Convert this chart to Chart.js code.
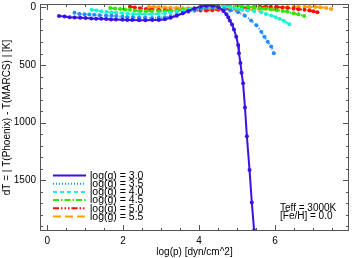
<!DOCTYPE html>
<html>
<head>
<meta charset="utf-8">
<script src="https://cdn.jsdelivr.net/npm/chart.js@4.4.1/dist/chart.umd.min.js"></script>
<style>
html, body { margin: 0; padding: 0; background: #fff; }
</style>
</head>
<body>
<canvas id="c" width="353" height="258"></canvas>
<script>
// surface gravities, one curve each
const gravities = ['3.0', '3.5', '4.0', '4.5', '5.0', '5.5'];
const colors = ['#3a12e6', '#1e8fff', '#1ff2cf', '#2fe600', '#ff0a0a', '#ffa000'];
const dashes = [[], [1, 2], [4, 3], [6, 2, 1.5, 2], [6, 2, 1.5, 2, 1.5, 2, 1.5, 2], [8, 4]];

// log(p) and dT per gravity
const logp30 = [0.31, 0.46, 0.59, 0.72, 0.87, 1.01, 1.16, 1.29, 1.42, 1.55, 1.68, 1.81, 1.98, 2.11, 2.24, 2.42, 2.59, 2.77,
  2.94, 3.10, 3.25, 3.41, 3.57, 3.72, 3.88, 4.04, 4.19, 4.35, 4.51, 4.64, 4.72, 4.77, 4.81, 4.87, 4.92, 4.98, 5.03, 5.05,
  5.09, 5.12, 5.16, 5.21, 5.26, 5.33, 5.39, 5.45, 5.51];
const dT30 = [75, 79, 84, 87, 90, 92, 96, 98, 98, 101, 104, 104, 107, 109, 109, 111, 111, 109,
  109, 102, 90, 72, 51, 30, 8, -8, -14, -14, -4, 30, 60, 84, 113, 147, 192, 254, 326, 397,
  482, 567, 659, 869, 1119, 1412, 1694, 1935, 2189];

const logp35 = [0.72, 0.85, 0.98, 1.11, 1.24, 1.38, 1.55, 1.69, 1.82, 1.98, 2.11, 2.26, 2.42, 2.58, 2.76, 2.94, 3.10, 3.25,
  3.41, 3.57, 3.72, 3.88, 4.04, 4.19, 4.35, 4.51, 4.66, 4.82, 5.03, 5.20, 5.37, 5.51, 5.64, 5.72, 5.81, 5.90, 5.97];
const dT35 = [47, 56, 58, 61, 64, 67, 70, 73, 75, 81, 84, 85, 90, 90, 91, 90, 85, 77,
  64, 51, 38, 26, 13, 4, 0, 4, 13, 26, 41, 70, 113, 155, 212, 254, 297, 340, 397];

const logp40 = [1.17, 1.30, 1.43, 1.56, 1.69, 1.82, 1.98, 2.11, 2.26, 2.42, 2.58, 2.76, 2.94, 3.10, 3.25, 3.41, 3.57, 3.72,
  3.88, 4.04, 4.19, 4.35, 4.51, 4.66, 4.82, 4.98, 5.13, 5.29, 5.45, 5.64, 5.76, 5.90, 6.02, 6.12, 6.23, 6.38];
const dT40 = [19, 26, 32, 38, 43, 47, 51, 54, 56, 56, 57, 56, 56, 51, 47, 38, 30, 21,
  13, 4, 0, -4, -4, -4, 0, 9, 17, 26, 32, 41, 56, 70, 84, 98, 115, 145];

const logp45 = [1.66, 1.79, 1.92, 2.05, 2.18, 2.31, 2.45, 2.60, 2.76, 2.94, 3.10, 3.25, 3.41, 3.57, 3.72, 3.88, 4.04, 4.19,
  4.35, 4.51, 4.66, 4.82, 4.98, 5.13, 5.29, 5.45, 5.60, 5.76, 5.89, 6.05, 6.20, 6.33, 6.49, 6.62, 6.77];
const dT45 = [4, 9, 13, 17, 21, 26, 30, 32, 34, 34, 32, 30, 26, 21, 13, 7, 0, -4,
  -9, -13, -13, -13, -13, -10, -7, -2, 4, 9, 17, 24, 30, 38, 50, 60, 75];

const logp50 = [2.18, 2.31, 2.45, 2.60, 2.76, 2.94, 3.10, 3.25, 3.41, 3.57, 3.72, 3.88, 4.04, 4.19, 4.35, 4.51, 4.66, 4.82,
  4.98, 5.13, 5.29, 5.45, 5.60, 5.76, 5.89, 6.05, 6.20, 6.33, 6.49, 6.62, 6.78, 6.91, 7.01, 7.12];
const dT50 = [-7, 0, 6, 13, 19, 22, 24, 26, 27, 27, 27, 27, 27, 26, 24, 21, 17, 13,
  9, 4, 0, -4, -6, -7, -7, -4, 0, 4, 10, 15, 21, 27, 34, 41];

const logp55 = [2.68, 2.81, 2.94, 3.10, 3.25, 3.41, 3.57, 3.72, 3.88, 4.04, 4.19, 4.35, 4.51, 4.66, 4.82, 4.98, 5.13, 5.29,
  5.45, 5.60, 5.76, 5.89, 6.05, 6.20, 6.33, 6.49, 6.62, 6.78, 6.91, 7.06, 7.19, 7.35, 7.48];
const dT55 = [-4, -3, -1, 1, 3, 4, 6, 7, 8, 9, 9, 11, 13, 15, 16, 18, 19, 19,
  17, 15, 11, 8, 4, 1, -3, -4, -6, -6, -5, -3, -1, 4, 13];

const logpSeries = [logp30, logp35, logp40, logp45, logp50, logp55];
const dTSeries = [dT30, dT35, dT40, dT45, dT50, dT55];

// axis ranges, labelled ticks and minor tick steps
const xMin = -0.19, xMax = 7.95, xMinor = 0.5;
const yMin = -30, yMax = 1941, yMinor = 100;
const xLabels = [0, 2, 4, 6];
const yLabels = [0, 500, 1000, 1500];

const FONT = 'Liberation Sans, Arial, sans-serif';

const datasets = gravities.map((g, i) => ({
    label: 'log(g) = ' + g,
    data: logpSeries[i].map((x, k) => ({ x: x, y: dTSeries[i][k] })),
    borderColor: colors[i],
    backgroundColor: colors[i],
    borderDash: dashes[i],
    borderWidth: 2,
    pointRadius: 2,
    pointBorderWidth: 0,
    pointBackgroundColor: colors[i],
    showLine: true,
    tension: 0
}));

// IDL-like frame: box with inward major/minor ticks on all four sides
const framePlugin = {
    id: 'frame',
    afterDraw(chart) {
        const ctx = chart.ctx;
        const a = chart.chartArea;
        const xs = chart.scales.x, ys = chart.scales.y;
        ctx.save();
        ctx.strokeStyle = '#555';
        ctx.lineWidth = 1;
        ctx.strokeRect(a.left + 0.5, a.top + 0.5, a.right - a.left - 1, a.bottom - a.top - 1);
        ctx.beginPath();
        for (let v = Math.ceil(xMin / xMinor) * xMinor; v <= xMax; v += xMinor) {
            const p = Math.round(xs.getPixelForValue(v)) + 0.5;
            const len = xLabels.includes(v) ? 6 : 3;
            ctx.moveTo(p, a.bottom); ctx.lineTo(p, a.bottom - len);
            ctx.moveTo(p, a.top); ctx.lineTo(p, a.top + len);
        }
        for (let v = Math.ceil(yMin / yMinor) * yMinor; v <= yMax; v += yMinor) {
            const p = Math.round(ys.getPixelForValue(v)) + 0.5;
            const len = v % 500 === 0 ? 6 : 3;
            ctx.moveTo(a.left, p); ctx.lineTo(a.left + len, p);
            ctx.moveTo(a.right, p); ctx.lineTo(a.right - len, p);
        }
        ctx.stroke();

        // legend inside the plot, lower left
        ctx.font = '10.5px ' + FONT;
        ctx.textBaseline = 'middle';
        ctx.textAlign = 'left';
        chart.data.datasets.forEach((ds, i) => {
            const y = 175.5 + i * 8.2;
            ctx.beginPath();
            ctx.setLineDash(ds.borderDash);
            ctx.strokeStyle = ds.borderColor;
            ctx.lineWidth = 2;
            ctx.moveTo(53, y); ctx.lineTo(86, y);
            ctx.stroke();
            ctx.setLineDash([]);
            ctx.fillStyle = '#000';
            ctx.fillText(ds.label, 90, y + 0.5);
        });

        // model parameters, lower right
        ctx.font = '10px ' + FONT;
        ctx.fillText('Teff = 3000K', 280, 208);
        ctx.fillText('[Fe/H] = 0.0', 280, 216.5);
        ctx.restore();
    }
};

new Chart(document.getElementById('c'), {
    type: 'scatter',
    data: { datasets: datasets },
    options: {
        responsive: false,
        animation: false,
        layout: { padding: { left: 0, right: 1, top: 0, bottom: 0 } },
        plugins: {
            legend: { display: false },
            tooltip: { enabled: false }
        },
        scales: {
            x: {
                type: 'linear',
                min: xMin,
                max: xMax,
                afterBuildTicks: s => { s.ticks = xLabels.map(v => ({ value: v })); },
                afterFit: s => { s.height = 27; s.paddingLeft = 0; s.paddingRight = 0; },
                border: { display: false },
                grid: { display: false, drawTicks: false, tickLength: 0 },
                ticks: {
                    autoSkip: false,
                    maxRotation: 0,
                    padding: 4,
                    color: '#000',
                    font: { family: FONT, size: 10 },
                    callback: v => String(v)
                },
                title: {
                    display: true,
                    text: 'log(p) [dyn/cm^2]',
                    color: '#000',
                    font: { family: FONT, size: 10 },
                    padding: { top: 0, bottom: 0 }
                }
            },
            y: {
                type: 'linear',
                reverse: true,
                min: yMin,
                max: yMax,
                afterBuildTicks: s => { s.ticks = yLabels.map(v => ({ value: v })); },
                afterFit: s => { s.width = 40; s.paddingTop = 0; s.paddingBottom = 0; },
                border: { display: false },
                grid: { display: false, drawTicks: false, tickLength: 0 },
                ticks: {
                    autoSkip: false,
                    padding: 4,
                    color: '#000',
                    font: { family: FONT, size: 10 },
                    callback: v => String(v)
                },
                title: {
                    display: true,
                    text: 'dT = | T(Phoenix) - T(MARCS) | [K]',
                    color: '#000',
                    font: { family: FONT, size: 10 },
                    padding: { top: 1, bottom: 0 }
                }
            }
        }
    },
    plugins: [framePlugin]
});
</script>
</body>
</html>
